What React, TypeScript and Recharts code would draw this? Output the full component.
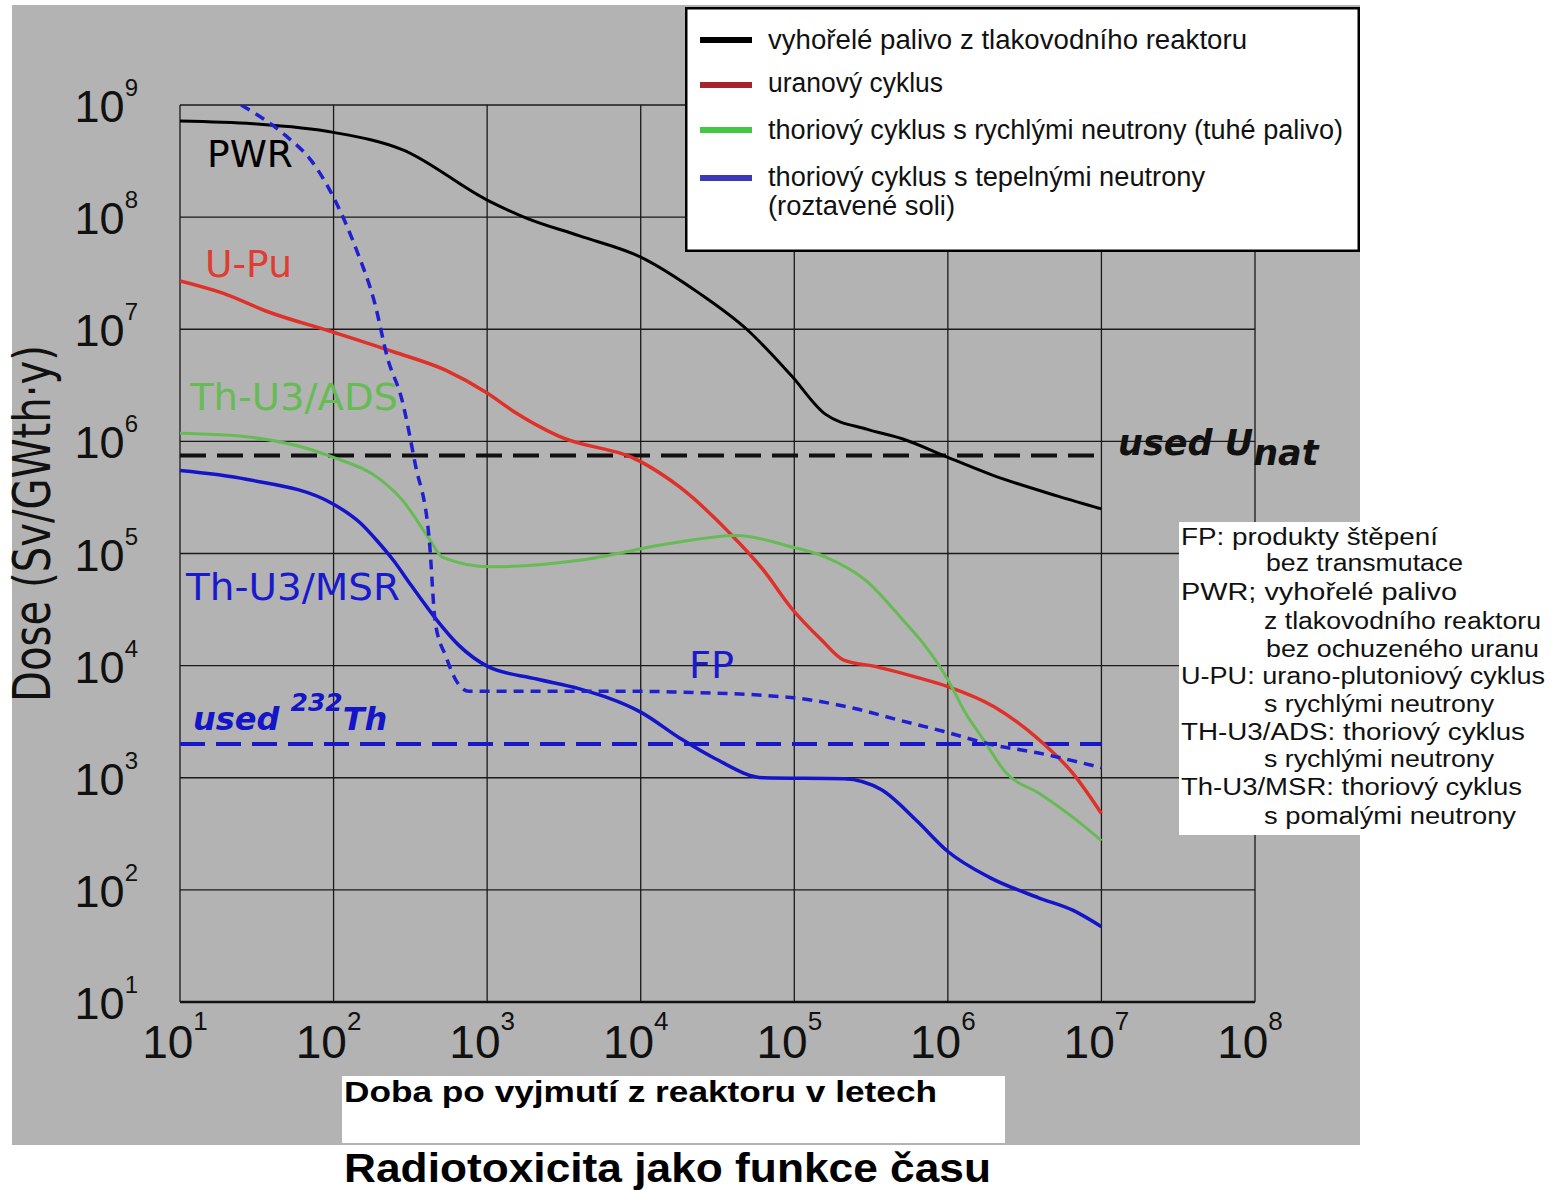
import React from 'react'
import { LineChart, Line, XAxis, YAxis, CartesianGrid, Legend } from 'recharts'

// x: roky po vyjmutí z reaktoru, y: dávka (Sv/GWth.y)
const X_TICKS = [1e1, 1e2, 1e3, 1e4, 1e5, 1e6, 1e7, 1e8]
const Y_TICKS = [1e1, 1e2, 1e3, 1e4, 1e5, 1e6, 1e7, 1e8, 1e9]

const pwrYears = [10, 30, 100, 280, 1000, 1800, 4000, 1e4, 2.4e4, 4.9e4, 9.5e4, 1.6e5, 3e5, 5.1e5, 1e6, 1.95e6, 5.2e6, 1e7]
const pwrDose = [7.2e8, 6.8e8, 5.7e8, 4.0e8, 1.42e8, 9.8e7, 6.8e7, 4.4e7, 2.1e7, 1e7, 3.9e6, 1.74e6, 1.28e6, 1.05e6, 7.2e5, 5.0e5, 3.25e5, 2.5e5]

const upuYears = [10, 19, 37, 100, 245, 540, 1000, 1480, 2900, 1e4, 1.8e4, 3.8e4, 6.3e4, 9.5e4, 1.5e5, 2.1e5, 3.4e5, 6.2e5, 1e6, 2e6, 3.9e6, 6.5e6, 1e7]
const upuDose = [2.7e7, 2.1e7, 1.44e7, 9.4e6, 6.3e6, 4.3e6, 2.7e6, 1.86e6, 1.12e6, 6.6e5, 3.9e5, 1.52e5, 7.1e4, 3.3e4, 1.7e4, 1.12e4, 9.8e3, 7.9e3, 6.5e3, 4.3e3, 2.2e3, 1.1e3, 480]

const adsYears = [10, 27, 100, 200, 280, 420, 510, 1060, 4000, 1.55e4, 4.2e4, 9.5e4, 1.6e5, 2.9e5, 5.1e5, 7.2e5, 1e6, 1.3e6, 1.7e6, 2.4e6, 3.9e6, 6.5e6, 1e7]
const adsDose = [1.18e6, 1.1e6, 7.2e5, 4.6e5, 3.0e5, 1.35e5, 9.3e4, 7.6e4, 8.7e4, 1.23e5, 1.45e5, 1.15e5, 9.3e4, 5.8e4, 2.55e4, 1.47e4, 7.5e3, 3.8e3, 2.2e3, 1.1e3, 730, 445, 275]

const msrYears = [10, 27, 100, 150, 190, 245, 320, 470, 660, 1000, 2100, 4000, 1e4, 1.85e4, 3e4, 6.3e4, 2.1e5, 3.7e5, 6.2e5, 1e6, 1.85e6, 3.9e6, 6.5e6, 1e7]
const msrDose = [5.5e5, 4.6e5, 2.75e5, 1.86e5, 1.32e5, 8.7e4, 5.2e4, 2.55e4, 1.5e4, 9.9e3, 7.6e3, 6.2e3, 3.85e3, 2.2e3, 1.5e3, 1.0e3, 980, 780, 420, 220, 130, 85, 66, 47]

const fpYears = [25, 49, 72, 102, 141, 186, 224, 280, 340, 420, 460, 540, 620, 760, 1e4, 1.8e4, 9.5e4, 2.2e5, 5.1e5, 9.3e5, 1.85e6, 3.9e6, 1e7]
const fpDose = [1e9, 5.3e8, 3.16e8, 1.42e8, 5.1e7, 1.68e7, 5.6e6, 2.3e6, 6.3e5, 1.32e5, 2.4e4, 1.2e4, 7.6e3, 5.9e3, 5.9e3, 5.8e3, 5.2e3, 4.3e3, 3.2e3, 2.6e3, 2.0e3, 1.66e3, 1.23e3]

const limitYears = [10, 1e7]
const usedUnatDose = [7.5e5, 7.5e5]
const usedThDose = [2e3, 2e3]

const legendNames = [
  'vyhořelé palivo z tlakovodního reaktoru',
  'uranový cyklus',
  'thoriový cyklus s rychlými neutrony (tuhé palivo)',
  'thoriový cyklus s tepelnými neutrony',
]
const legendColors = ['#000000', '#a8242c', '#44c844', '#3a3ab8']

const notes = [
  'FP: produkty štěpení',
  'bez transmutace',
  'PWR; vyhořelé palivo',
  'z tlakovodního reaktoru',
  'bez ochuzeného uranu',
  'U-PU: urano-plutoniový cyklus',
  's rychlými neutrony',
  'TH-U3/ADS: thoriový cyklus',
  's rychlými neutrony',
  'Th-U3/MSR: thoriový cyklus',
  's pomalými neutrony',
]

const toPoints = (years: number[], dose: number[]) => years.map((x, i) => ({ x, y: dose[i] }))

const pwrData = toPoints(pwrYears, pwrDose)
const upuData = toPoints(upuYears, upuDose)
const adsData = toPoints(adsYears, adsDose)
const msrData = toPoints(msrYears, msrDose)
const fpData = toPoints(fpYears, fpDose)
const unatData = toPoints(limitYears, usedUnatDose)
const thData = toPoints(limitYears, usedThDose)

const NUM_FONT = '"Liberation Sans", Arial, sans-serif'
const NARROW_FONT = '"Liberation Sans Narrow", "Liberation Sans", Arial, sans-serif'
const LABEL_FONT = '"DejaVu Sans", Verdana, sans-serif'

const exp = (v: number) => Math.round(Math.log10(v))

const XTick = ({ x, y, payload }: any) => (
  <text x={x - 5} y={y + 56} textAnchor="middle" fontFamily={NUM_FONT} fontSize={46} fill="#111">
    10<tspan fontSize={26} dy={-28}>{exp(payload.value)}</tspan>
  </text>
)

const YTick = ({ x, y, payload }: any) => (
  <text x={x - 42} y={y + 17} textAnchor="end" fontFamily={NUM_FONT} fontSize={45} fill="#111">
    10<tspan fontSize={24} dy={-26}>{exp(payload.value)}</tspan>
  </text>
)

const legendRows = [
  { line: 33, base: 42, len: 479 },
  { line: 78, base: 85, len: 175 },
  { line: 123, base: 132, len: 575 },
  { line: 171, base: 179, len: 437 },
]

const LegendBox = () => (
  <svg width={675} height={245} style={{ display: 'block' }}>
    <rect x={1.25} y={1.25} width={672.5} height={242.5} fill="#fff" stroke="#000" strokeWidth={2.5} />
    {legendNames.map((name, i) => (
      <g key={name}>
        <line x1={15} x2={67} y1={legendRows[i].line} y2={legendRows[i].line} stroke={legendColors[i]} strokeWidth={6} />
        <text x={83} y={legendRows[i].base} fontFamily={NARROW_FONT} fontSize={27} fill="#111"
          textLength={legendRows[i].len} lengthAdjust="spacingAndGlyphs">{name}</text>
      </g>
    ))}
    <text x={83} y={208} fontFamily={NARROW_FONT} fontSize={27} fill="#111" textLength={187} lengthAdjust="spacingAndGlyphs">
      (roztavené soli)
    </text>
  </svg>
)

const noteLayout = [
  { x: 1181, y: 545, len: 257 },
  { x: 1266, y: 571, len: 197 },
  { x: 1181, y: 600, len: 276 },
  { x: 1264, y: 629, len: 277 },
  { x: 1266, y: 657, len: 273 },
  { x: 1181, y: 684, len: 364 },
  { x: 1264, y: 712, len: 230 },
  { x: 1181, y: 740, len: 344 },
  { x: 1264, y: 767, len: 230 },
  { x: 1181, y: 795, len: 341 },
  { x: 1264, y: 824, len: 252 },
]

export default function App() {
  return (
    <div style={{ position: 'absolute', left: 0, top: 0, width: 1560, height: 1190, background: '#fff', overflow: 'hidden' }}>
      <div style={{ position: 'absolute', left: 12, top: 5, width: 1348, height: 1140, background: '#b3b3b3' }} />
      <div style={{ position: 'absolute', left: 0, top: 0 }}>
        <LineChart width={1560} height={1190} margin={{ top: 105, right: 305, bottom: 108, left: 30 }}>
          <CartesianGrid stroke="#1a1a1a" strokeWidth={1.3} />
          <XAxis dataKey="x" type="number" scale="log" domain={[10, 1e8]} ticks={X_TICKS} interval={0}
            allowDataOverflow tickLine={false} tickSize={0} tickMargin={0} height={80}
            axisLine={{ stroke: '#111', strokeWidth: 2.5 }} tick={XTick} />
          <YAxis type="number" scale="log" domain={[10, 1e9]} ticks={Y_TICKS} interval={0}
            allowDataOverflow tickLine={false} tickSize={0} tickMargin={0} width={150}
            axisLine={false} tick={YTick} />
          <Legend content={LegendBox} verticalAlign="middle" align="center" layout="horizontal"
            wrapperStyle={{ left: 685, top: 7, width: 675, height: 245 }} />
          <Line data={unatData} dataKey="y" type="linear" stroke="#111" strokeWidth={4} strokeDasharray="26 11" dot={false} isAnimationActive={false} legendType="none" />
          <Line data={thData} dataKey="y" type="linear" stroke="#1818c8" strokeWidth={4} strokeDasharray="25 11" dot={false} isAnimationActive={false} legendType="none" />
          <Line data={pwrData} dataKey="y" type="monotone" stroke="#000" strokeWidth={3} dot={false} isAnimationActive={false} />
          <Line data={upuData} dataKey="y" type="monotone" stroke="#e0302a" strokeWidth={3.5} dot={false} isAnimationActive={false} />
          <Line data={adsData} dataKey="y" type="monotone" stroke="#66bb55" strokeWidth={3} dot={false} isAnimationActive={false} />
          <Line data={msrData} dataKey="y" type="monotone" stroke="#1414c8" strokeWidth={3.5} dot={false} isAnimationActive={false} />
          <Line data={fpData} dataKey="y" type="monotone" stroke="#2020d0" strokeWidth={3.5} strokeDasharray="10 7" dot={false} isAnimationActive={false} legendType="none" />
        </LineChart>
      </div>
      <svg width={1560} height={1190} style={{ position: 'absolute', left: 0, top: 0, pointerEvents: 'none' }}>
        <text transform="translate(50,702) rotate(-90) scale(1,1.45)" fontFamily={LABEL_FONT} fontSize={36} fill="#111"
          textLength={357} lengthAdjust="spacingAndGlyphs">
          Dose (Sv/GWth·y)
        </text>

        <text x={207} y={167} fontFamily={LABEL_FONT} fontSize={38} fill="#000" textLength={86} lengthAdjust="spacingAndGlyphs">PWR</text>
        <text x={205} y={277} fontFamily={LABEL_FONT} fontSize={38} fill="#e03c32" textLength={87} lengthAdjust="spacingAndGlyphs">U-Pu</text>
        <text x={190} y={410} fontFamily={LABEL_FONT} fontSize={38} fill="#66bb55" textLength={208} lengthAdjust="spacingAndGlyphs">Th-U3/ADS</text>
        <text x={186} y={600} fontFamily={LABEL_FONT} fontSize={38} fill="#1a1acc" textLength={214} lengthAdjust="spacingAndGlyphs">Th-U3/MSR</text>
        <text x={689} y={678} fontFamily={LABEL_FONT} fontSize={38} fill="#1a1acc" textLength={45} lengthAdjust="spacingAndGlyphs">FP</text>

        <text x={193} y={730} fontFamily={LABEL_FONT} fontSize={32} fontWeight="bold" fontStyle="italic" fill="#1414c8">
          used <tspan fontSize={25} dy={-19}>232</tspan><tspan dy={19}>Th</tspan>
        </text>
        <text x={1118} y={455} fontFamily={LABEL_FONT} fontSize={35} fontWeight="bold" fontStyle="italic" fill="#111">
          used U<tspan dy={10}>nat</tspan>
        </text>

        <rect x={1179} y={522} width={366} height={313} fill="#fff" />
        {notes.map((t, i) => (
          <text key={i} x={noteLayout[i].x} y={noteLayout[i].y} fontFamily={NARROW_FONT} fontSize={23} fill="#111"
            textLength={noteLayout[i].len} lengthAdjust="spacingAndGlyphs">{t}</text>
        ))}

        <rect x={342} y={1076} width={663} height={67} fill="#fff" />
        <text x={344} y={1102} fontFamily={NUM_FONT} fontSize={29} fontWeight="bold" fill="#000" textLength={593} lengthAdjust="spacingAndGlyphs">
          Doba po vyjmutí z reaktoru v letech
        </text>
        <text x={344} y={1182} fontFamily={NUM_FONT} fontSize={40} fontWeight="bold" fill="#000" textLength={647} lengthAdjust="spacingAndGlyphs">
          Radiotoxicita jako funkce času
        </text>
      </svg>
    </div>
  )
}
